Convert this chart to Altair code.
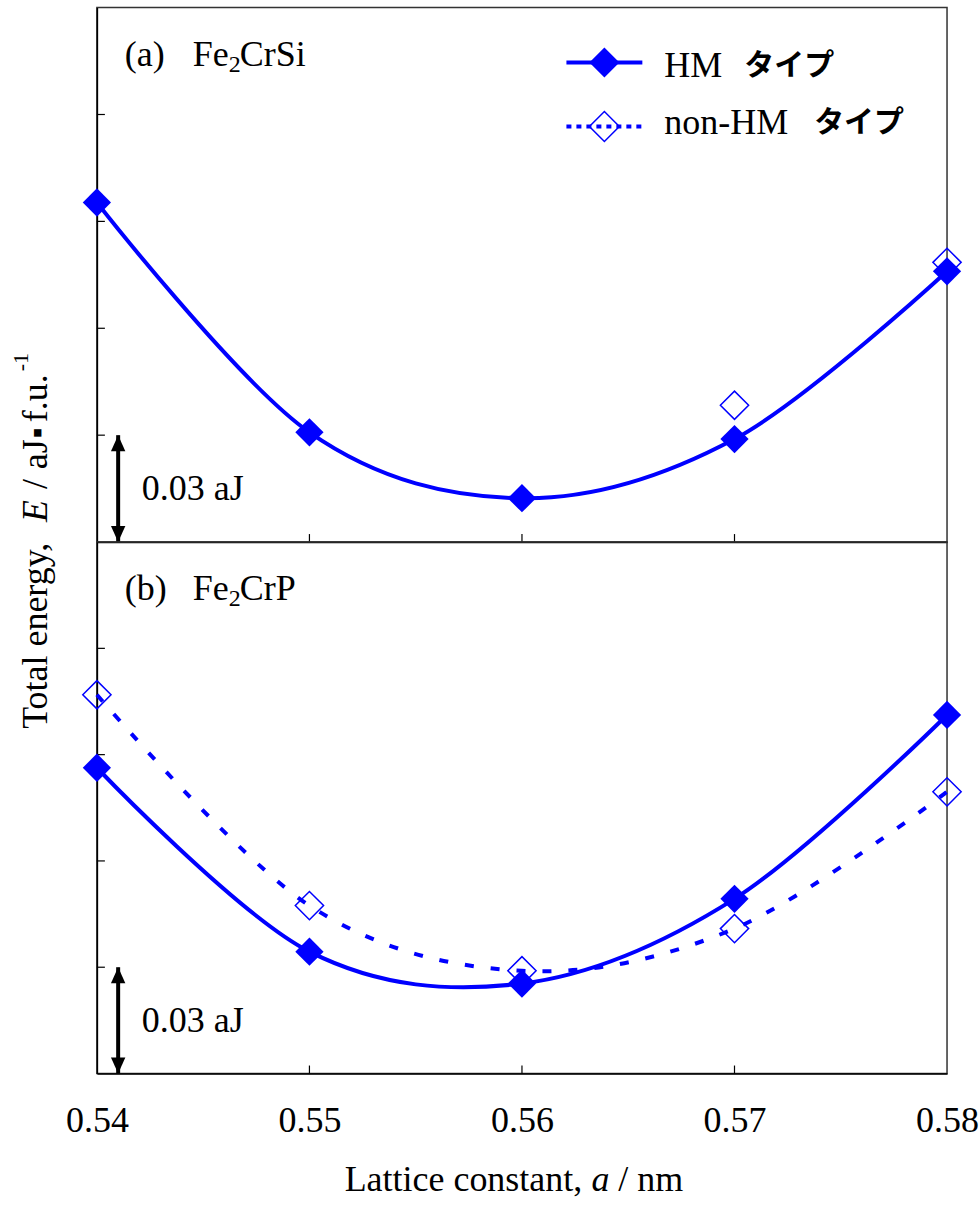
import altair as alt
import pandas as pd

# ---- data ----
x_vals = [0.54, 0.55, 0.56, 0.57, 0.58]
a_hm = [0.0953, 0.0308, 0.0123, 0.0289, 0.0760]
a_non_x = [0.57, 0.58]
a_non = [0.0384, 0.0785]
b_hm = [0.0863, 0.0344, 0.0254, 0.0493, 0.1012]
b_non = [0.1069, 0.0474, 0.0290, 0.0409, 0.0795]
y_ticks = [0.03, 0.06, 0.09, 0.12]
x_ticks = [0.54, 0.55, 0.56, 0.57, 0.58]
inner_x_ticks = [0.55, 0.56, 0.57]
arrow_x = 0.541
arrow_span = [0.0, 0.03]

BLUE = '#0000FF'
SERIF = 'Liberation Serif'
CJK = 'Noto Sans CJK JP'
W = 851
H_TOP = 535
H_BOT = 532


def txt(s, x, y, size=36, font=SERIF, style='normal', weight='normal',
        align='left', angle=0, baseline='alphabetic', color='black'):
    return alt.Chart(pd.DataFrame({'t': [s]})).mark_text(
        font=font, fontSize=size, fontStyle=style, fontWeight=weight,
        align=align, baseline=baseline, angle=angle, color=color
    ).encode(x=alt.value(x), y=alt.value(y), text='t:N')


def panel(hm_y, non_x, non_y, non_line, H, show_labels, label, formula_rest, extras):
    xs = alt.Scale(domain=[0.54, 0.58], nice=False, zero=False)
    ys = alt.Scale(domain=[0, 0.15], nice=False, zero=False)
    xaxis = alt.Axis(values=x_ticks, format='.2f', labels=show_labels, ticks=False,
                     grid=False, title=None, domainColor='black', domainWidth=1.5,
                     labelFont=SERIF, labelFontSize=36, labelColor='black',
                     labelPadding=30, labelFlush=False)
    yaxis = alt.Axis(labels=False, ticks=False, grid=False, title=None,
                     domainColor='black', domainWidth=1.5)
    X = alt.X('x:Q', scale=xs, axis=xaxis)
    Y = alt.Y('y:Q', scale=ys, axis=yaxis)

    hm = pd.DataFrame({'x': x_vals, 'y': hm_y})
    non = pd.DataFrame({'x': non_x, 'y': non_y})

    layers = []
    # inside tick marks
    layers.append(alt.Chart(pd.DataFrame({'y': y_ticks})).mark_rule(
        color='black', strokeWidth=1.2).encode(y=Y, x=alt.value(0), x2=alt.value(8)))
    layers.append(alt.Chart(pd.DataFrame({'x': inner_x_ticks})).mark_rule(
        color='black', strokeWidth=1.2).encode(x=X, y=alt.value(H - 8), y2=alt.value(H)))

    layers.append(alt.Chart(hm).mark_line(color=BLUE, strokeWidth=4, interpolate='cardinal')
                  .encode(x='x:Q', y='y:Q'))
    layers.append(alt.Chart(hm).mark_point(shape='diamond', filled=True, size=800,
                                           color=BLUE, opacity=1)
                  .encode(x='x:Q', y='y:Q'))
    if non_line:
        layers.append(alt.Chart(non).mark_line(color=BLUE, strokeWidth=4, interpolate='cardinal',
                                               strokeDash=[9, 17])
                      .encode(x='x:Q', y='y:Q'))
    layers.append(alt.Chart(non).mark_point(shape='diamond', filled=False, size=800,
                                            color=BLUE, strokeWidth=1.5, opacity=1)
                  .encode(x='x:Q', y='y:Q'))

    # 0.03 aJ scale arrow
    arr = pd.DataFrame({'x': [arrow_x], 'y': [arrow_span[0]], 'y2': [arrow_span[1]]})
    layers.append(alt.Chart(arr).mark_rule(color='black', strokeWidth=4)
                  .encode(x='x:Q', y='y:Q', y2='y2:Q'))
    head_up = pd.DataFrame({'x': [arrow_x], 'y': [arrow_span[1]]})
    head_dn = pd.DataFrame({'x': [arrow_x], 'y': [arrow_span[0]]})
    layers.append(alt.Chart(head_up).mark_point(shape='M0,0L-0.9,2L0.9,2Z', filled=True,
                                                size=256, color='black', opacity=1)
                  .encode(x='x:Q', y='y:Q'))
    layers.append(alt.Chart(head_dn).mark_point(shape='M0,0L-0.9,-2L0.9,-2Z', filled=True,
                                                size=256, color='black', opacity=1)
                  .encode(x='x:Q', y='y:Q'))
    layers.append(txt('0.03 aJ', 45, H - 42))

    # panel label with subscript
    layers.append(txt(label, 28, 58))
    layers.append(txt('Fe', 96, 58))
    layers.append(txt('2', 132, 64, size=24))
    layers.append(txt(formula_rest, 143, 58))

    layers.extend(extras)
    return alt.layer(*layers).properties(width=W, height=H)


# legend (top panel)
legend_layers = [
    alt.Chart(pd.DataFrame({'a': [0]})).mark_rule(color=BLUE, strokeWidth=4)
    .encode(x=alt.value(470), x2=alt.value(546), y=alt.value(55)),
    alt.Chart(pd.DataFrame({'a': [0]})).mark_point(shape='diamond', filled=True, size=900,
                                                   color=BLUE, opacity=1)
    .encode(x=alt.value(508), y=alt.value(55)),
    txt('HM', 568, 69),
    txt('タイプ', 648, 67, size=30, font=CJK, weight='bold'),
    alt.Chart(pd.DataFrame({'a': [0]})).mark_rule(color=BLUE, strokeWidth=4, strokeDash=[5, 5])
    .encode(x=alt.value(470), x2=alt.value(546), y=alt.value(119)),
    alt.Chart(pd.DataFrame({'a': [0]})).mark_point(shape='diamond', filled=False, size=900,
                                                   color=BLUE, strokeWidth=1.5, opacity=1)
    .encode(x=alt.value(508), y=alt.value(119)),
    txt('non-HM', 568, 127),
    txt('タイプ', 718, 125, size=30, font=CJK, weight='bold'),
]

# y title (rotated, reading upward), pieces placed in top panel coordinates
ytitle = [
    txt('Total energy,', -50, 722, angle=270),
    txt('E', -50, 515, angle=270, style='italic'),
    txt('/', -50, 482, angle=270),
    txt('aJ', -50, 462, angle=270),
    txt('\u25aa', -50, 431, angle=270, size=30),
    txt('f.u.', -50, 415, angle=270),
    txt('-1', -69, 364, size=22, angle=270),
]

# x title pieces in bottom panel coordinates
xtitle = [
    txt('Lattice constant,', 248, 650),
    txt('a', 495, 650, style='italic'),
    txt('/ nm', 522, 650),
]

top = panel(a_hm, a_non_x, a_non, False, H_TOP, False, '(a)', 'CrSi', legend_layers + ytitle)
bottom = panel(b_hm, x_vals, b_non, True, H_BOT, True, '(b)', 'CrP', xtitle)

chart = alt.vconcat(top, bottom, spacing=0, bounds='flush').properties(
    padding={'left': 9, 'top': 6, 'right': 0, 'bottom': 0}
).configure_view(stroke='#333333', strokeWidth=1.5)

chart.save('out.html', embed_options={'renderer': 'svg', 'actions': False})
